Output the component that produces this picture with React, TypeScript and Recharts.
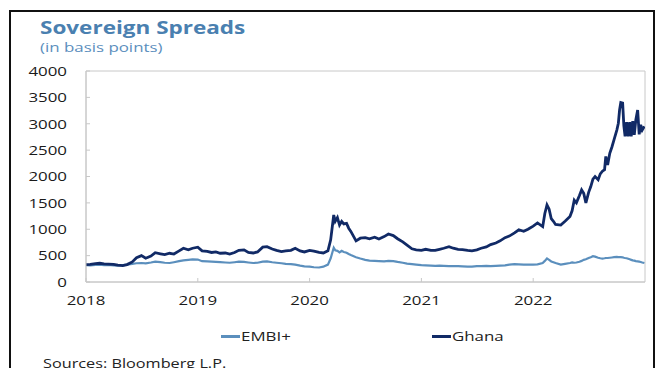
import React from "react";
import { LineChart, Line, XAxis, YAxis, ReferenceArea, Legend } from "recharts";

const dates = [
  "2018-01-01","2018-01-15","2018-02-01","2018-02-15","2018-03-01","2018-03-15","2018-04-01","2018-04-15",
  "2018-05-01","2018-05-15","2018-06-01","2018-06-15","2018-07-01","2018-07-15","2018-08-01","2018-08-15",
  "2018-09-01","2018-09-15","2018-10-01","2018-10-15","2018-11-01","2018-11-15","2018-12-01","2018-12-15",
  "2019-01-01","2019-01-15","2019-02-01","2019-02-15","2019-03-01","2019-03-15","2019-04-01","2019-04-15",
  "2019-05-01","2019-05-15","2019-06-01","2019-06-15","2019-07-01","2019-07-15","2019-08-01","2019-08-15",
  "2019-09-01","2019-09-15","2019-10-01","2019-10-15","2019-11-01","2019-11-15","2019-12-01","2019-12-15",
  "2020-01-01","2020-01-15","2020-02-01","2020-02-15","2020-03-01","2020-03-10","2020-03-20","2020-03-25",
  "2020-04-01","2020-04-08","2020-04-15","2020-04-22","2020-05-01","2020-05-08","2020-05-15","2020-06-01",
  "2020-06-15","2020-07-01","2020-07-15","2020-08-01","2020-08-15","2020-09-01","2020-09-15","2020-10-01",
  "2020-10-15","2020-11-01","2020-11-15","2020-12-01","2020-12-15",
  "2021-01-01","2021-01-15","2021-02-01","2021-02-15","2021-03-01","2021-03-15","2021-04-01","2021-04-15",
  "2021-05-01","2021-05-15","2021-06-01","2021-06-15","2021-07-01","2021-07-15","2021-08-01","2021-08-15",
  "2021-09-01","2021-09-15","2021-10-01","2021-10-15","2021-11-01","2021-11-15","2021-12-01","2021-12-15",
  "2022-01-01","2022-01-15","2022-02-01","2022-02-08","2022-02-15","2022-02-22","2022-03-01","2022-03-08",
  "2022-03-15","2022-04-01","2022-04-15","2022-05-01","2022-05-08","2022-05-15","2022-05-22","2022-06-01",
  "2022-06-08","2022-06-15","2022-06-22","2022-07-01","2022-07-08","2022-07-15","2022-07-22","2022-08-01",
  "2022-08-08","2022-08-15","2022-08-22","2022-08-26","2022-09-01","2022-09-08","2022-09-15","2022-09-22",
  "2022-10-01","2022-10-06","2022-10-10","2022-10-14","2022-10-20","2022-10-24","2022-10-28","2022-11-02",
  "2022-11-07","2022-11-12","2022-11-17","2022-11-22","2022-11-27","2022-12-02","2022-12-08","2022-12-13",
  "2022-12-18","2022-12-23","2022-12-30",
];

const ghana = [
  330,335,350,355,345,340,335,320,
  310,330,380,460,500,450,490,555,
  535,520,545,530,590,640,610,640,
  660,590,580,560,570,545,550,530,
  560,600,610,560,550,570,660,670,
  625,600,575,590,600,640,590,570,
  600,585,560,550,590,800,1270,1150,
  1220,1080,1150,1100,1110,1020,960,780,
  830,840,820,850,815,860,910,880,
  820,760,700,630,610,
  600,620,600,600,620,640,670,640,
  620,615,600,590,610,640,665,710,
  740,780,840,870,930,990,960,1000,
  1060,1120,1050,1300,1460,1380,1200,1150,
  1090,1080,1150,1240,1350,1550,1500,1640,
  1745,1680,1500,1700,1810,1950,2000,1940,
  2050,2100,2130,2380,2220,2440,2560,2700,
  2880,3010,3260,3400,3390,2960,2760,3030,
  2760,3030,2760,3050,2790,3070,3260,2800,
  2980,2880,2950,
];

const embi = [
  320,315,325,330,320,325,315,310,
  320,330,345,355,360,355,370,385,
  375,365,360,375,395,410,420,430,
  425,395,390,385,380,375,370,365,
  375,385,380,370,360,365,385,390,
  375,365,355,345,340,330,310,295,
  290,280,275,290,330,450,650,600,
  590,560,590,570,555,530,510,470,
  445,420,405,400,395,390,400,395,
  380,365,350,340,330,
  320,315,310,305,310,305,300,300,
  300,295,290,290,300,300,305,300,
  305,310,315,330,340,335,330,330,
  330,335,360,400,445,420,390,375,
  360,330,345,360,370,365,370,385,
  400,420,430,455,470,490,480,460,
  450,445,450,455,455,460,465,470,
  475,472,470,470,468,460,455,450,
  440,430,420,410,405,395,390,385,
  380,370,360,
];

const yTicks = [0, 500, 1000, 1500, 2000, 2500, 3000, 3500, 4000];
const xTicks = [2018, 2019, 2020, 2021, 2022];

const toYear = (d: string) => {
  const [y, m, dd] = d.split("-").map(Number);
  const s = Date.UTC(y, 0, 1);
  const e = Date.UTC(y + 1, 0, 1);
  return y + (Date.UTC(y, m - 1, dd) - s) / (e - s);
};

const data = dates.map((d, i) => ({ t: toYear(d), embi: embi[i], ghana: ghana[i] }));

const EMBI_COLOR = "#5b8fbd";
const GHANA_COLOR = "#112a66";
const FONT = "'Open Sans', 'Noto Sans', sans-serif";
const SX = 1.25;

const YTick = (props: any) => {
  const { x, y, payload } = props;
  return (
    <text transform={`translate(${x},${y}) scale(${SX},1)`} textAnchor="end" dy="0.355em" fill="#1a1a1a" fontSize={13.5} fontFamily={FONT}>
      {payload.value}
    </text>
  );
};

const XTick = (props: any) => {
  const { x, y, payload } = props;
  return (
    <text transform={`translate(${x},${y}) scale(${SX},1)`} textAnchor="middle" dy="0.71em" fill="#1a1a1a" fontSize={13.5} fontFamily={FONT}>
      {payload.value}
    </text>
  );
};

const stretch: React.CSSProperties = { display: "inline-block", transform: `scaleX(${SX})`, transformOrigin: "left center", whiteSpace: "nowrap" };

const renderLegend = () => (
  <div style={{ position: "relative", width: 656, height: 20, fontFamily: FONT, fontSize: 13.5, color: "#222" }}>
    <div style={{ position: "absolute", left: 221, top: 0, display: "flex", alignItems: "center", height: 20 }}>
      <span style={{ display: "inline-block", width: 19, height: 3, background: EMBI_COLOR }} />
      <span style={{ ...stretch, marginLeft: 1 }}>EMBI+</span>
    </div>
    <div style={{ position: "absolute", left: 432, top: 0, display: "flex", alignItems: "center", height: 20 }}>
      <span style={{ display: "inline-block", width: 19, height: 3, background: GHANA_COLOR }} />
      <span style={{ ...stretch, marginLeft: 1 }}>Ghana</span>
    </div>
  </div>
);

export default function App() {
  return (
    <div style={{ position: "absolute", left: 0, top: 0, width: 656, height: 368, overflow: "hidden", background: "#fff" }}>
      <div style={{ position: "absolute", left: 9, top: 10, width: 642, height: 400, border: "2px solid #111" }} />
      <div style={{ position: "absolute", left: 40, top: 15, fontFamily: FONT, fontWeight: 700, fontSize: 18, color: "#4a80b0", lineHeight: "24px" }}>
        <span style={stretch}>Sovereign Spreads</span>
      </div>
      <div style={{ position: "absolute", left: 40, top: 38, fontFamily: FONT, fontSize: 13.5, color: "#5b8ebd", lineHeight: "18px" }}>
        <span style={stretch}>(in basis points)</span>
      </div>
      <div style={{ position: "absolute", left: 0, top: 0 }}>
        <LineChart width={656} height={368} data={data} margin={{ top: 71, right: 11, bottom: 0, left: 0 }}>
          <XAxis
            dataKey="t"
            type="number"
            domain={[2018, 2023]}
            ticks={xTicks}
            allowDataOverflow
            stroke="#c8c8c8"
            tickSize={-4}
            tickMargin={17}
            tick={<XTick />}
            height={86}
          />
          <YAxis
            domain={[0, 4000]}
            ticks={yTicks}
            stroke="#c8c8c8"
            width={86}
            tickSize={-4}
            tickMargin={23}
            tick={<YTick />}
          />
          <ReferenceArea x1={2018} x2={2023} y1={0} y2={4000} fill="none" stroke="#c8c8c8" strokeWidth={1} ifOverflow="visible" />
          <Line dataKey="embi" stroke={EMBI_COLOR} strokeWidth={2.2} dot={false} isAnimationActive={false} />
          <Line dataKey="ghana" stroke={GHANA_COLOR} strokeWidth={2.8} dot={false} isAnimationActive={false} />
          <Legend content={renderLegend} verticalAlign="middle" align="center" wrapperStyle={{ position: "absolute", left: 0, top: 326, width: 656 }} />
        </LineChart>
      </div>
      <div style={{ position: "absolute", left: 43, top: 354, fontFamily: FONT, fontSize: 13, color: "#222", lineHeight: "18px" }}>
        <span style={stretch}>Sources: Bloomberg L.P.</span>
      </div>
    </div>
  );
}
